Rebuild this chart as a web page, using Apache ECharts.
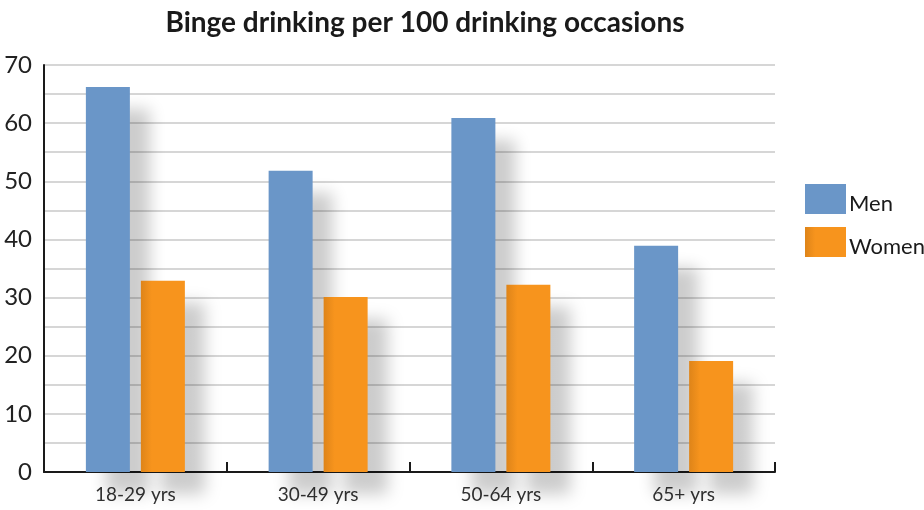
<!DOCTYPE html>
<html>
<head>
<meta charset="utf-8">
<script src="https://cdn.jsdelivr.net/npm/echarts@6/dist/echarts.min.js"></script>
<style>
  html, body { margin: 0; padding: 0; background: #fff; }
  #chart { width: 924px; height: 510px; }
</style>
</head>
<body>
<div id="chart"></div>
<script>
// Age groups and binge episodes per 100 drinking occasions
const ageGroups = ['18-29 yrs', '30-49 yrs', '50-64 yrs', '65+ yrs'];
const menValues = [66.2, 51.8, 60.9, 38.9];
const womenValues = [32.9, 30.1, 32.2, 19.1];
const seriesNames = ['Men', 'Women'];

const font = 'Lato, "DejaVu Sans", sans-serif';

const barShadow = {
  shadowColor: 'rgba(0,0,0,0.2)',
  shadowBlur: 16,
  shadowOffsetX: 20,
  shadowOffsetY: 22
};

const chart = echarts.init(document.getElementById('chart'));
chart.setOption({
  animation: false,
  backgroundColor: '#ffffff',
  title: {
    text: 'Binge drinking per 100 drinking occasions',
    left: 420,
    textAlign: 'center',
    top: 4,
    textStyle: { fontFamily: font, fontWeight: 'bold', fontSize: 28, color: '#1a1a1a' }
  },
  legend: {
    orient: 'vertical',
    left: 805,
    top: 184,
    padding: 0,
    itemWidth: 41,
    itemHeight: 30,
    itemGap: 12,
    icon: 'rect',
    data: seriesNames,
    formatter: '{t|{name}}',
    textStyle: {
      fontFamily: font, fontSize: 22, color: '#1a1a1a',
      rich: { t: { fontFamily: font, fontSize: 22, color: '#1a1a1a', padding: [10, 0, 0, -2] } }
    }
  },
  grid: { left: 44, right: 149, top: 65, bottom: 38 },
  xAxis: {
    type: 'category',
    data: ageGroups,
    axisLine: { lineStyle: { color: '#1a1a1a', width: 2 } },
    axisTick: { show: true, inside: true, length: 10, lineStyle: { color: '#1a1a1a', width: 2 } },
    axisLabel: { fontFamily: font, fontSize: 19, color: '#333', margin: 13 }
  },
  yAxis: {
    type: 'value',
    min: 0,
    max: 70,
    interval: 5,
    axisLine: { show: true, lineStyle: { color: '#1a1a1a', width: 2 } },
    axisTick: { show: false },
    axisLabel: {
      fontFamily: font, fontSize: 24, color: '#222', margin: 12,
      formatter: v => (v % 10 === 0 ? String(v) : '')
    },
    splitLine: { lineStyle: { color: '#c8c8c8', width: 1.5 } }
  },
  series: [
    {
      name: seriesNames[0],
      type: 'bar',
      data: menValues,
      barWidth: 44,
      barGap: '25%',
      itemStyle: Object.assign({ color: '#6a96c8' }, barShadow)
    },
    {
      name: seriesNames[1],
      type: 'bar',
      data: womenValues,
      barWidth: 44,
      itemStyle: Object.assign({
        color: new echarts.graphic.LinearGradient(0, 0, 1, 0, [
          { offset: 0, color: '#de8419' },
          { offset: 0.25, color: '#f7941d' },
          { offset: 1, color: '#f7941d' }
        ])
      }, barShadow)
    }
  ]
});
</script>
</body>
</html>
